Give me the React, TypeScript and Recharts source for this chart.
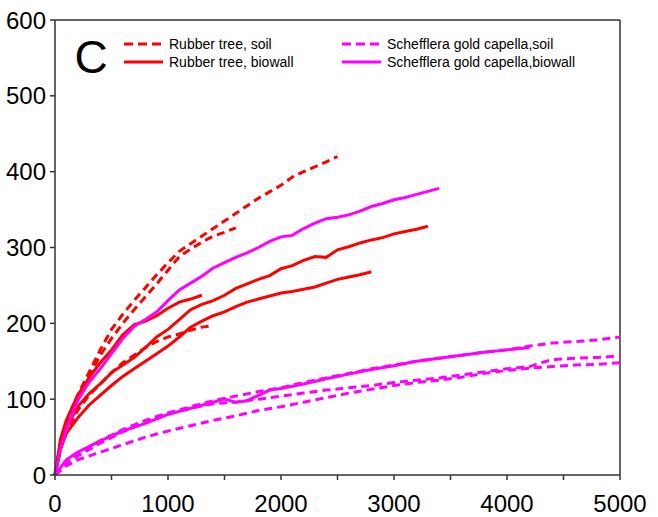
import React from 'react';
import { LineChart, Line, XAxis, YAxis, ReferenceLine } from 'recharts';

type P = { x: number; y: number };
const mk = (pts: number[][]): P[] => pts.map(([x, y]) => ({ x, y }));

// Rubber tree, soil (dashed red)
const rubberSoil1 = mk([[0,0],[50,45],[100,70],[200,105],[300,135],[400,165],[500,192],[600,212],[700,230],[800,247],[900,264],[1000,280],[1100,295],[1200,305],[1400,325],[1600,345],[1800,365],[2000,382],[2100,393],[2200,400],[2400,413],[2500,420]]);
const rubberSoil2 = mk([[0,0],[50,42],[100,65],[200,100],[300,130],[400,158],[500,180],[600,200],[700,218],[800,235],[900,252],[1000,270],[1100,288],[1200,298],[1300,307],[1400,315],[1500,320],[1600,326]]);
const rubberSoil3 = mk([[0,0],[50,35],[100,55],[200,85],[300,105],[400,120],[500,135],[600,148],[700,158],[800,168],[900,176],[1000,182],[1100,186],[1200,191],[1300,195],[1400,197]]);

// Rubber tree, biowall (solid red)
const rubberWall1 = mk([[0,0],[50,40],[100,62],[200,90],[300,107],[400,120],[500,135],[600,145],[700,155],[800,168],[900,182],[1000,192],[1100,205],[1200,218],[1300,225],[1400,230],[1500,237],[1600,246],[1700,252],[1800,258],[1900,263],[2000,272],[2100,276],[2200,283],[2300,288],[2400,287],[2500,297],[2600,301],[2700,306],[2800,310],[2900,313],[3000,318],[3100,321],[3200,324],[3300,328]]);
const rubberWall2 = mk([[0,0],[50,35],[100,55],[200,75],[300,92],[400,105],[500,118],[600,130],[700,140],[800,150],[900,160],[1000,170],[1100,182],[1200,195],[1300,203],[1400,210],[1500,215],[1600,222],[1700,228],[1800,232],[1900,236],[2000,240],[2100,242],[2200,245],[2300,248],[2400,253],[2500,258],[2600,261],[2700,264],[2800,268]]);
const rubberWall3 = mk([[0,0],[50,48],[100,72],[200,105],[300,128],[400,148],[500,165],[600,185],[700,198],[800,203],[900,210],[1000,220],[1100,228],[1200,232],[1300,237]]);

// Schefflera gold capella, soil (dashed magenta)
const scheffSoil1 = mk([[0,0],[100,18],[200,28],[400,45],[600,60],[800,72],[1000,82],[1200,90],[1400,98],[1600,104],[1800,110],[2000,115],[2200,122],[2400,128],[2600,134],[2800,140],[3000,145],[3200,150],[3400,154],[3600,158],[3800,162],[4000,165],[4200,170],[4400,174],[4600,176],[4800,178],[5000,182]]);
const scheffSoil2 = mk([[0,0],[100,15],[200,25],[400,42],[600,57],[800,70],[1000,80],[1200,88],[1400,94],[1600,96],[1800,100],[2000,104],[2200,108],[2400,112],[2600,115],[2800,118],[3000,122],[3200,125],[3400,128],[3600,132],[3800,136],[4000,140],[4200,143],[4300,148],[4400,152],[4600,154],[4800,155],[5000,157]]);
const scheffSoil3 = mk([[0,0],[100,12],[200,20],[400,30],[600,40],[800,50],[1000,58],[1200,65],[1400,72],[1600,78],[1800,85],[2000,90],[2200,96],[2400,102],[2600,108],[2800,113],[3000,118],[3200,122],[3400,125],[3600,129],[3800,134],[4000,138],[4200,141],[4400,143],[4600,145],[4800,146],[5000,148]]);

// Schefflera gold capella, biowall (solid magenta)
const scheffWall1 = mk([[0,0],[50,35],[100,60],[200,98],[300,122],[400,140],[500,160],[600,180],[700,196],[800,205],[900,215],[1000,230],[1100,244],[1200,253],[1300,262],[1400,273],[1500,280],[1600,287],[1700,293],[1800,300],[1900,308],[2000,314],[2100,316],[2200,325],[2300,332],[2400,338],[2500,340],[2600,343],[2700,348],[2800,354],[2900,358],[3000,363],[3100,366],[3200,370],[3300,374],[3400,378]]);
const scheffWall2 = mk([[0,0],[100,20],[200,30],[400,45],[600,58],[800,68],[1000,80],[1200,88],[1400,96],[1500,100],[1600,96],[1700,98],[1800,105],[1900,112],[2000,114],[2200,120],[2400,127],[2600,133],[2800,139],[3000,144],[3200,150],[3400,154],[3600,158],[3800,162],[4000,165],[4200,168]]);

const xTicks = [0, 500, 1000, 1500, 2000, 2500, 3000, 3500, 4000, 4500, 5000];
const yTicks = [0, 100, 200, 300, 400, 500, 600];

const RED = '#FF0000';
const MAG = '#FF00FF';
const AXIS = '#333333';
const FONT = '"Liberation Sans", Arial, sans-serif';
const DASH = '8 5';

const redSoil = [rubberSoil1, rubberSoil2, rubberSoil3];
const redWall = [rubberWall1, rubberWall2, rubberWall3];
const magSoil = [scheffSoil1, scheffSoil2, scheffSoil3];
const magWall = [scheffWall1, scheffWall2];

const XTick = (props: any) => {
  const { x, y, payload } = props;
  if (payload.value % 1000 !== 0) return <g />;
  return (
    <text x={x} y={y + 30} textAnchor="middle" fontSize={24} fontFamily={FONT} fill="#000">
      {payload.value}
    </text>
  );
};

const YTick = (props: any) => {
  const { x, y, payload } = props;
  return (
    <text x={x - 2} y={y + 8.5} textAnchor="end" fontSize={24} fontFamily={FONT} fill="#000">
      {payload.value}
    </text>
  );
};

const legendItems = [
  { label: 'Rubber tree, soil', color: RED, dash: true, lx: 124, ty: 44 },
  { label: 'Rubber tree, biowall', color: RED, dash: false, lx: 124, ty: 62 },
  { label: 'Schefflera gold capella,soil', color: MAG, dash: true, lx: 342, ty: 44 },
  { label: 'Schefflera gold capella,biowall', color: MAG, dash: false, lx: 342, ty: 62 },
];

export default function App() {
  const lines: React.ReactNode[] = [];
  redSoil.forEach((d, i) =>
    lines.push(<Line key={'rs' + i} data={d} dataKey="y" type="linear" stroke={RED} strokeWidth={3} strokeDasharray={DASH} dot={false} isAnimationActive={false} />)
  );
  redWall.forEach((d, i) =>
    lines.push(<Line key={'rw' + i} data={d} dataKey="y" type="linear" stroke={RED} strokeWidth={3} dot={false} isAnimationActive={false} />)
  );
  magSoil.forEach((d, i) =>
    lines.push(<Line key={'ms' + i} data={d} dataKey="y" type="linear" stroke={MAG} strokeWidth={3} strokeDasharray={DASH} dot={false} isAnimationActive={false} />)
  );
  magWall.forEach((d, i) =>
    lines.push(<Line key={'mw' + i} data={d} dataKey="y" type="linear" stroke={MAG} strokeWidth={3} dot={false} isAnimationActive={false} />)
  );

  return (
    <div style={{ position: 'absolute', left: 0, top: 0, width: 658, height: 517, background: '#fff' }}>
      <LineChart width={658} height={517} margin={{ top: 20, right: 38, left: 0, bottom: 0 }}>
        <XAxis
          type="number"
          dataKey="x"
          domain={[0, 5000]}
          ticks={xTicks}
          interval={0}
          allowDuplicatedCategory={false}
          height={42}
          stroke={AXIS}
          strokeWidth={1.5}
          tickSize={5}
          tick={<XTick />}
        />
        <YAxis
          type="number"
          domain={[0, 600]}
          ticks={yTicks}
          interval={0}
          width={55}
          stroke={AXIS}
          strokeWidth={1.5}
          tickSize={5}
          tick={<YTick />}
        />
        <ReferenceLine y={600} stroke={AXIS} strokeWidth={1.5} />
        <ReferenceLine x={5000} stroke={AXIS} strokeWidth={1.5} />
        {lines}
      </LineChart>
      <svg width={658} height={517} style={{ position: 'absolute', left: 0, top: 0, pointerEvents: 'none' }}>
        <text x={91} y={73} textAnchor="middle" fontSize={46} fontFamily={FONT} fill="#000">C</text>
        {legendItems.map((it) => (
          <g key={it.label}>
            <line x1={it.lx} x2={it.lx + 39} y1={it.ty} y2={it.ty} stroke={it.color} strokeWidth={3} strokeDasharray={it.dash ? '9 5' : undefined} />
            <text x={it.lx + 45} y={it.ty + 5} fontSize={14} fontFamily={FONT} fill="#000">{it.label}</text>
          </g>
        ))}
      </svg>
    </div>
  );
}
